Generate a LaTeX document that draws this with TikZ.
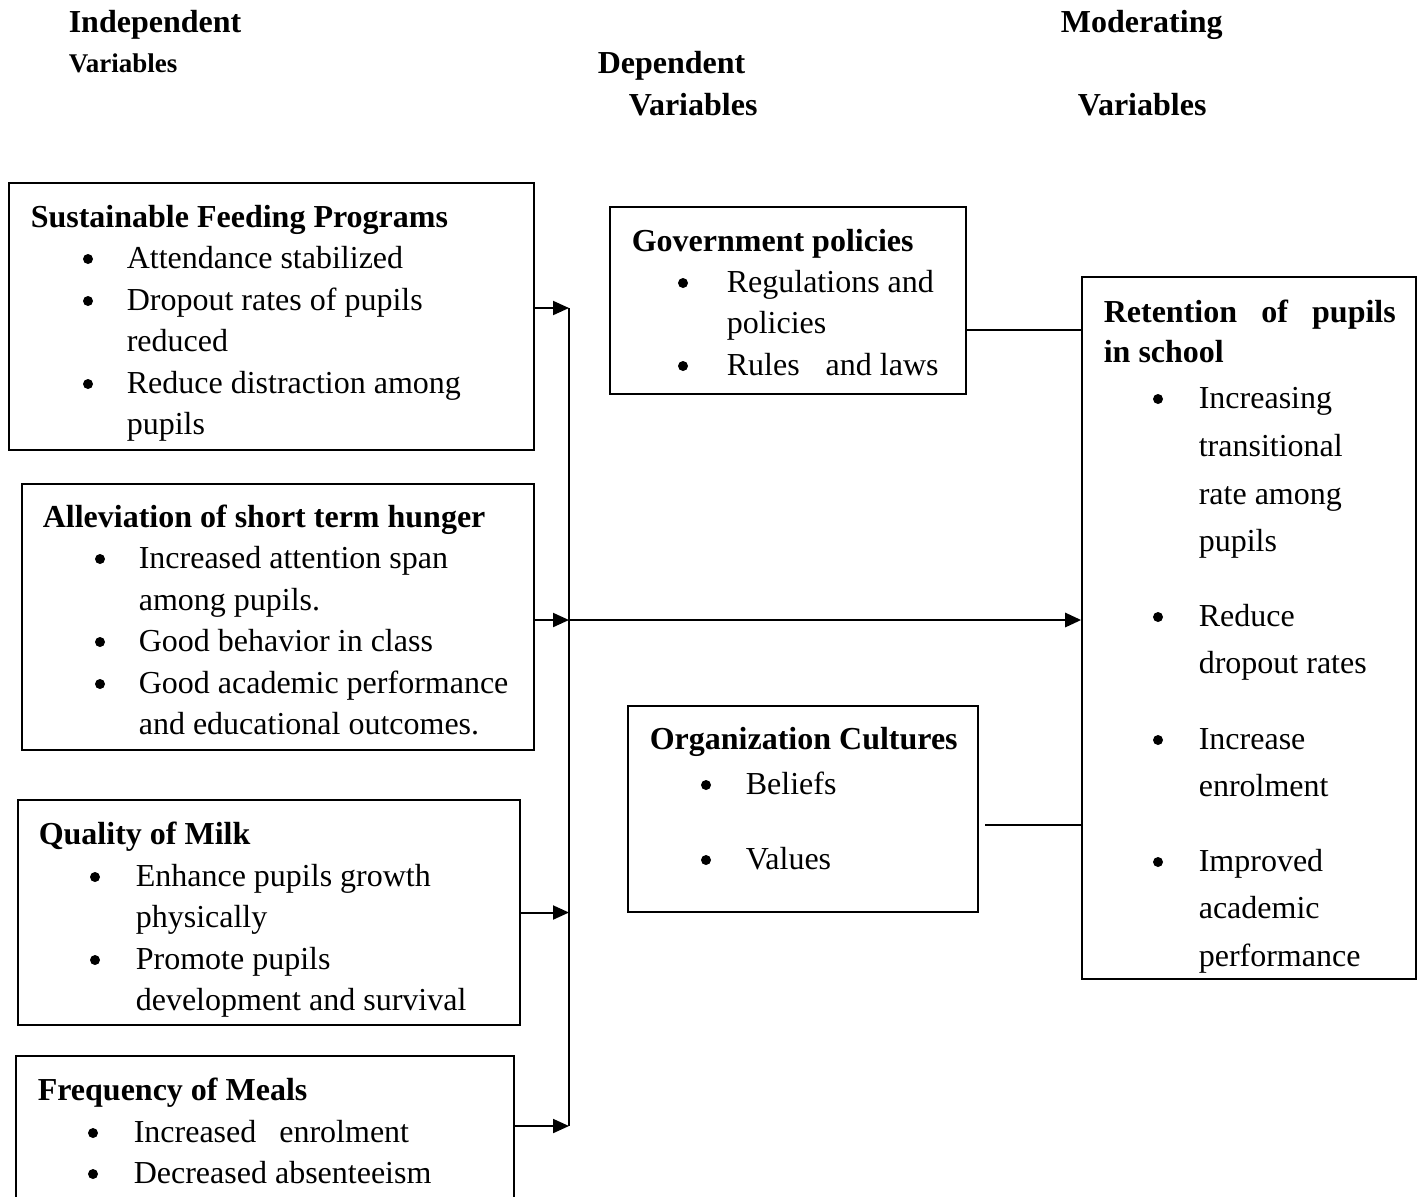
\documentclass[tikz,border=0pt]{standalone}
\usepackage{fontspec}
\setmainfont{Liberation Serif}
\usetikzlibrary{arrows.meta,fit,positioning}

\begin{document}
\begin{tikzpicture}[x=0.5pt, y={(0pt,-0.5pt)}, line width=.8pt,
            varbox/.style={
            draw,
            rectangle,
            inner sep=0pt},
            txt/.style={
            anchor=base west,
            inner sep=0pt,
            font=\fontsize{16}{20}\selectfont},
            ttl/.style={
            txt,
            font=\fontsize{16}{20}\selectfont\bfseries},
            bul/.style={
            circle,
            fill=black,
            inner sep=0pt,
            minimum size=5pt},
            link/.style={line width=1pt},
            feed/.style={line width=1pt, -{Triangle[length=8pt,width=7pt]}}]

       \clip (0,0) rectangle (1422,1196);

       % headings
       \node[ttl] (indep) at (68,32) {Independent};
       \node[ttl, font=\fontsize{13.5}{16}\selectfont\bfseries] (indepv) at (68,72) {Variables};
       \node[ttl] (dep) at (597,73) {Dependent};
       \node[ttl] (depv) at (628,115) {Variables};
       \node[ttl] (mod) at (1060,32) {Moderating};
       \node[ttl] (modv) at (1077,115) {Variables};

       % boxes
       \node[varbox, fit={(9,183) (534,450)}] (sfp) {};
       \node[varbox, fit={(22,484) (534,750)}] (ash) {};
       \node[varbox, fit={(18,800) (520,1025)}] (qom) {};
       \node[varbox, fit={(16,1056) (514,1200)}] (fom) {};
       \node[varbox, fit={(610,207) (966,394)}] (gov) {};
       \node[varbox, fit={(628,706) (978,912)}] (org) {};
       \node[varbox, fit={(1082,277) (1416,979)}] (ret) {};

       % Sustainable Feeding Programs
       \node[ttl] (sfp-t) at (30,227) {Sustainable Feeding Programs};
       \foreach \yy/\t [count=\i] in {268/Attendance stabilized, 310/Dropout rates of pupils, 351/reduced, 393/Reduce distraction among, 434/pupils}
           \node[txt] (sfp-\i) at (126,\yy) {\t};
       \foreach \yy [count=\i] in {268,310,393}
           \node[bul] (sfp-b\i) at (88,\yy-9) {};

       % Alleviation of short term hunger
       \node[ttl] (ash-t) at (42,527) {Alleviation of short term hunger};
       \foreach \yy/\t [count=\i] in {568/Increased attention span, 610/among pupils., 651/Good behavior in class, 693/Good academic performance, 734/and educational outcomes.}
           \node[txt] (ash-\i) at (138,\yy) {\t};
       \foreach \yy [count=\i] in {568,651,693}
           \node[bul] (ash-b\i) at (100,\yy-9) {};

       % Quality of Milk
       \node[ttl] (qom-t) at (38,844) {Quality of Milk};
       \foreach \yy/\t [count=\i] in {886/Enhance pupils growth, 927/physically, 969/Promote pupils, 1010/development and survival}
           \node[txt] (qom-\i) at (135,\yy) {\t};
       \foreach \yy [count=\i] in {886,969}
           \node[bul] (qom-b\i) at (95,\yy-9) {};

       % Frequency of Meals
       \node[ttl] (fom-t) at (37,1100) {Frequency of Meals};
       \foreach \yy/\t [count=\i] in {1142/Increased\hspace{11.5pt}enrolment, 1183/Decreased absenteeism}
           \node[txt] (fom-\i) at (133,\yy) {\t};
       \foreach \yy [count=\i] in {1142,1183}
           \node[bul] (fom-b\i) at (93,\yy-9) {};

       % Government policies
       \node[ttl] (gov-t) at (631,251) {Government policies};
       \foreach \yy/\t [count=\i] in {292/Regulations and, 333/policies, 375/Rules\hspace{13pt}and laws}
           \node[txt] (gov-\i) at (726,\yy) {\t};
       \foreach \yy [count=\i] in {292,375}
           \node[bul] (gov-b\i) at (683,\yy-9) {};

       % Organization Cultures
       \node[ttl] (org-t) at (649,749) {Organization Cultures};
       \foreach \yy/\t [count=\i] in {794/Beliefs, 869/Values}
           \node[txt] (org-\i) at (745,\yy) {\t};
       \foreach \yy [count=\i] in {794,869}
           \node[bul] (org-b\i) at (706,\yy-9) {};

       % Retention of pupils in school
       \node[ttl] (ret-t) at (1103,322) {\makebox[146pt][s]{Retention of pupils}};
       \node[ttl] (ret-t2) at (1103,362) {in school};
       \foreach \yy/\t [count=\i] in {408/Increasing, 456/transitional, 504/rate among, 551/pupils, 626/Reduce, 673/dropout rates, 749/Increase, 796/enrolment, 871/Improved, 918/academic, 966/performance}
           \node[txt] (ret-\i) at (1198,\yy) {\t};
       \foreach \yy [count=\i] in {408,626,749,871}
           \node[bul] (ret-b\i) at (1158,\yy-9) {};

       % connectors
       \coordinate (bustop) at (569,308);
       \coordinate (busmid) at (569,620);
       \coordinate (busbot) at (569,1126);
       \coordinate (govlink) at (966,330);
       \coordinate (orglink) at (985,825);

       \draw[link] (bustop) -- (busbot);
       \draw[feed] (sfp.east |- bustop) -- (bustop);
       \draw[feed] (ash.east |- busmid) -- (busmid);
       \draw[feed] (qom.east) -- (qom.east -| busmid);
       \draw[feed] (fom.east |- busbot) -- (busbot);
       \draw[feed, line width=1.4pt] (busmid) -- (ret.west |- busmid);
       \draw[link] (govlink) -- (ret.west |- govlink);
       \draw[link] (orglink) -- (ret.west |- orglink);
   \end{tikzpicture}
\end{document}
